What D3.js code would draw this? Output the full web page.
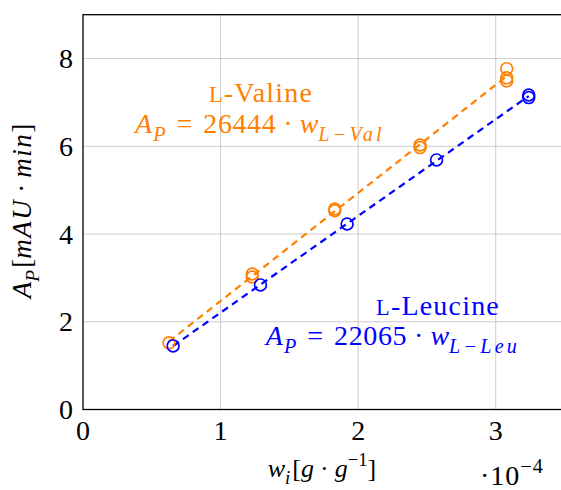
<!DOCTYPE html>
<html>
<head>
<meta charset="utf-8">
<script src="https://cdn.jsdelivr.net/npm/d3@7"></script>
<style>
  html, body { margin: 0; padding: 0; background: #fff; }
  svg { display: block; }
  text { font-family: "Times New Roman", "Nimbus Roman", "DejaVu Serif Condensed", "DejaVu Serif", serif; }
</style>
</head>
<body>
<svg id="chart" width="561" height="490"></svg>
<script>
// Calibration data: mass fraction (x 1e-4 g/g) vs. peak area (mAU·min)
const valineW = [0.625, 1.23, 1.23, 1.83, 1.83, 2.45, 2.45, 3.08, 3.08, 3.08];
const valineA = [1.52, 3.09, 3.02, 4.57, 4.53, 6.03, 5.97, 7.77, 7.56, 7.49];
const leucineW = [0.655, 1.29, 1.92, 2.57, 3.24, 3.24];
const leucineA = [1.45, 2.84, 4.23, 5.69, 7.17, 7.11];

const xTicks = [0, 1, 2, 3];
const yTicks = [0, 2, 4, 6, 8];

const ORANGE = "#ff8000";
const BLUE = "#0000ff";
const FS = 28;

const svg = d3.select("#chart");
const margin = { left: 83, top: 14.7, right: -3.5, bottom: 80.5 };
const W = 561 - margin.left - margin.right;
const H = 490 - margin.top - margin.bottom;

const x = d3.scaleLinear().domain([0, 3.5]).range([margin.left, margin.left + W]);
const y = d3.scaleLinear().domain([0, 9]).range([margin.top + H, margin.top]);

// grid
const grid = svg.append("g");
grid.selectAll("line.gx").data(xTicks.filter(d => d > 0)).join("line")
  .attr("x1", d => x(d)).attr("x2", d => x(d))
  .attr("y1", y(0)).attr("y2", y(9))
  .attr("stroke", "#cccccc").attr("stroke-width", 1);
grid.selectAll("line.gy").data(yTicks.filter(d => d > 0)).join("line")
  .attr("x1", x(0)).attr("x2", x(3.5))
  .attr("y1", d => y(d)).attr("y2", d => y(d))
  .attr("stroke", "#cccccc").attr("stroke-width", 1);

// least-squares fit line over the data range
function fit(xs, ys) {
  const n = xs.length;
  const mx = d3.mean(xs), my = d3.mean(ys);
  let sxy = 0, sxx = 0;
  for (let i = 0; i < n; i++) { sxy += (xs[i] - mx) * (ys[i] - my); sxx += (xs[i] - mx) ** 2; }
  const b = sxy / sxx, a = my - b * mx;
  const x0 = d3.min(xs), x1 = d3.max(xs);
  return [[x0, a + b * x0], [x1, a + b * x1]];
}

const line = d3.line().x(d => x(d[0])).y(d => y(d[1]));

const series = [
  { w: valineW, a: valineA, color: ORANGE },
  { w: leucineW, a: leucineA, color: BLUE }
];

series.forEach(s => {
  svg.append("path")
    .attr("d", line(fit(s.w, s.a)))
    .attr("fill", "none")
    .attr("stroke", s.color)
    .attr("stroke-width", 2.2)
    .attr("stroke-dasharray", "7,5");
});

series.forEach(s => {
  svg.append("g").selectAll("circle")
    .data(s.w.map((w, i) => [w, s.a[i]]))
    .join("circle")
    .attr("cx", d => x(d[0])).attr("cy", d => y(d[1]))
    .attr("r", 5.9)
    .attr("fill", "none")
    .attr("stroke", s.color)
    .attr("stroke-width", 1.7);
});

// frame
svg.append("rect")
  .attr("x", x(0)).attr("y", y(9))
  .attr("width", x(3.5) - x(0)).attr("height", y(0) - y(9))
  .attr("fill", "none").attr("stroke", "#000").attr("stroke-width", 1.3);

// tick labels
svg.append("g").selectAll("text").data(xTicks).join("text")
  .attr("x", d => x(d)).attr("y", 440)
  .attr("text-anchor", "middle")
  .attr("font-size", FS)
  .text(d => d);
svg.append("g").selectAll("text").data(yTicks).join("text")
  .attr("x", 73).attr("y", d => y(d) + 9.5)
  .attr("text-anchor", "end")
  .attr("font-size", FS)
  .text(d => d);

// rich text helper: pieces may be italic, subscript or superscript
function rich(g, parts, size) {
  const t = g.append("text").attr("font-size", size);
  let shift = 0;
  parts.forEach(p => {
    const ts = t.append("tspan").text(p.t);
    if (p.i) ts.attr("font-style", "italic");
    let target = 0, fs = size;
    if (p.sub) { target = size * 0.28; fs = size * 0.72; }
    if (p.sup) { target = -size * 0.42; fs = size * 0.72; }
    ts.attr("font-size", fs);
    if (p.dx) ts.attr("dx", p.dx);
    if (p.ls) ts.attr("letter-spacing", p.ls);
    if (target !== shift) { ts.attr("dy", target - shift); shift = target; }
  });
  return t;
}

// annotations
function label(cx, base, name, color) {
  const t = svg.append("text").attr("x", cx).attr("y", base)
    .attr("text-anchor", "middle").attr("fill", color).attr("font-size", FS)
    .attr("letter-spacing", 1.2);
  t.append("tspan").attr("font-size", FS * 0.8).text("L");
  t.append("tspan").text("-" + name);
}

function equation(cx, base, coef, sub, color) {
  rich(svg.append("g").attr("fill", color), [
    { t: "A", i: true, ls: 1 }, { t: "P", i: true, sub: true },
    { t: "=", dx: 11 }, { t: coef, dx: 11, ls: 0.6 }, { t: "·", dx: 7 },
    { t: "w", i: true, dx: 7 }, { t: sub, i: true, sub: true, ls: 3.2 }
  ], FS).attr("x", cx).attr("y", base).attr("text-anchor", "middle");
}

label(261, 102, "Valine", ORANGE);
equation(260, 133, "26444", "L−Val", ORANGE);

label(438, 315, "Leucine", BLUE);
equation(393, 345, "22065", "L−Leu", BLUE);

// axis titles
rich(svg.append("g"), [
  { t: "w", i: true }, { t: "i", i: true, sub: true, ls: 2 },
  { t: "[" }, { t: "g", i: true }, { t: "·", dx: 6 }, { t: "g", i: true, dx: 6 },
  { t: "−1", sup: true }, { t: "]" }
], 26).attr("x", 322).attr("y", 477).attr("text-anchor", "middle");

rich(svg.append("g"), [
  { t: "·10", ls: 1 }, { t: "−4", sup: true, ls: 1 }
], 28).attr("x", 480).attr("y", 485);

rich(svg.append("g").attr("transform", "translate(31,211) rotate(-90)"), [
  { t: "A", i: true }, { t: "P", i: true, sub: true, ls: 2 },
  { t: "[" }, { t: "mAU", i: true, ls: 1.5 }, { t: "·", dx: 6 }, { t: "min", i: true, dx: 6, ls: 1.5 }, { t: "]" }
], 27).attr("x", 0).attr("y", 0).attr("text-anchor", "middle");
</script>
</body>
</html>
